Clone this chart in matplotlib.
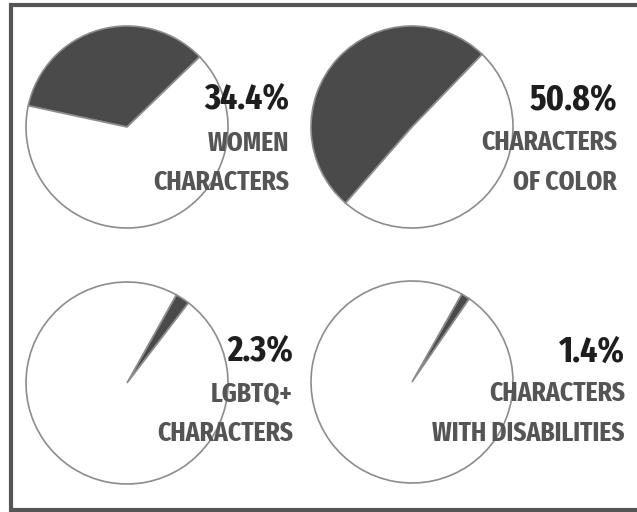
import matplotlib
matplotlib.use("Agg")
import matplotlib.pyplot as plt
from matplotlib import font_manager
from matplotlib.font_manager import FontProperties

# share of characters, in percent
percents = [34.4, 50.8, 2.3, 1.4]
pct_labels = ["34.4%", "50.8%", "2.3%", "1.4%"]
labels = [["WOMEN", "CHARACTERS"],
          ["CHARACTERS", "OF COLOR"],
          ["LGBTQ+", "CHARACTERS"],
          ["CHARACTERS", "WITH DISABILITIES"]]
start_angles = [44, 46, 52.5, 55.5]

W, H = 637, 512
# pie centres / radius and text anchor, in pixel coords (y down)
centres = [(127, 127), (412, 127), (127, 383), (412, 382)]
radius = 101
text_right = [289, 617, 293, 625]
base_pct = [109, 110, 361, 362]
base_l1 = [151, 150, 401, 401]
base_l2 = [190, 190, 441, 441]

# look for a condensed bold face, the original uses a narrow display font
cands = []
for f in font_manager.fontManager.ttflist:
    fn = f.fname.lower()
    if ("condensed" in fn or "narrow" in fn) and f.weight in (700, "bold") and "italic" not in fn:
        score = 0 if "extracondensed" in fn else (1 if "semicondensed" not in fn else 2)
        cands.append((score, f.fname))
cands.sort()
if cands:
    base_prop = FontProperties(fname=cands[0][1])
else:
    base_prop = FontProperties(family="DejaVu Sans", weight="bold")

dark = "#4a4a4a"
edge = "#8c8c8c"

fig = plt.figure(figsize=(W / 100, H / 100), dpi=100)
ax = fig.add_axes([0, 0, 1, 1])
renderer = fig.canvas.get_renderer()


def fit_size(txt, target_px):
    # font size so that txt is about target_px wide
    p = base_prop.copy()
    p.set_size(20)
    t = fig.text(0, 0, txt, fontproperties=p)
    w = t.get_window_extent(renderer).width
    t.remove()
    return 20 * target_px / w


fs_pct = fit_size("34.4%", 85)
fs_lab = fit_size("CHARACTERS", 136)
prop_pct = base_prop.copy()
prop_pct.set_size(fs_pct)
prop_lab = base_prop.copy()
prop_lab.set_size(fs_lab)

for i in range(4):
    cx, cy = centres[i]
    ax.pie([percents[i], 100 - percents[i]], colors=[dark, "white"],
           startangle=start_angles[i], counterclock=True,
           center=(cx, H - cy), radius=radius,
           wedgeprops=dict(edgecolor=edge, linewidth=1.2))

for i in range(4):
    ax.text(text_right[i], H - base_pct[i], pct_labels[i], ha="right", va="baseline",
            fontproperties=prop_pct, color="#1e1e1e")
    ax.text(text_right[i], H - base_l1[i], labels[i][0], ha="right", va="baseline",
            fontproperties=prop_lab, color="#555555")
    ax.text(text_right[i], H - base_l2[i], labels[i][1], ha="right", va="baseline",
            fontproperties=prop_lab, color="#555555")

# frame (right side is cut off in the original)
ax.plot([W + 5, 10.5, 10.5, W + 5], [H - 4.5, H - 4.5, 2.5, 2.5],
        color="#555555", linewidth=3, solid_joinstyle="miter", clip_on=False)

ax.set_xlim(0, W)
ax.set_ylim(0, H)
ax.set_aspect("auto")
ax.axis("off")

fig.savefig("out.png", dpi=100, facecolor="white")
